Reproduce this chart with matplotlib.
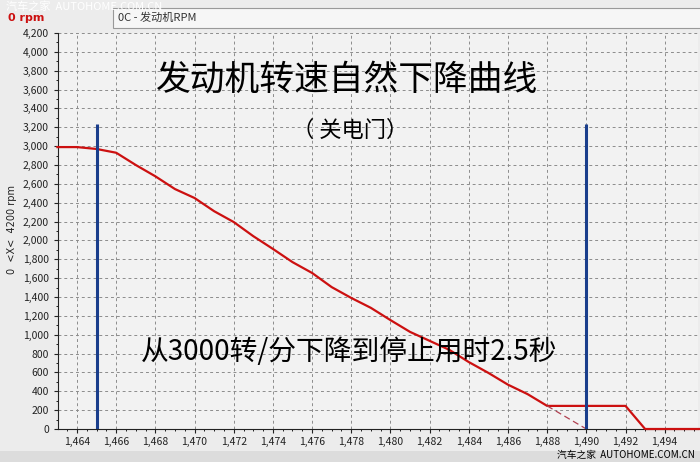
import matplotlib.pyplot as plt
from matplotlib.ticker import MultipleLocator, FuncFormatter
from matplotlib.patches import Rectangle

plt.rcParams['font.family'] = ['Noto Sans CJK SC', 'DejaVu Sans']

# engine rpm samples
t = [1463, 1464, 1465, 1466, 1467, 1468, 1469, 1470, 1471, 1472, 1473, 1474,
     1475, 1476, 1477, 1478, 1479, 1480, 1481, 1482, 1483, 1484, 1485, 1486,
     1487, 1488, 1492, 1493, 1496]
rpm = [2990, 2990, 2970, 2930, 2800, 2680, 2545, 2450, 2310, 2195, 2045, 1910,
       1770, 1655, 1505, 1390, 1285, 1155, 1030, 935, 840, 710, 595, 470,
       370, 245, 245, 0, 0]
# extrapolated part (dashed)
ext_t = [1488, 1490]
ext_rpm = [245, 0]
# markers
mark_t = [1465, 1490]
mark_top = 3230

title = '发动机转速自然下降曲线'
subtitle = '（ 关电门）'
note = '从3000转/分下降到停止用时2.5秒'

fig = plt.figure(figsize=(7, 4.62), dpi=100, facecolor='#ececec')
ax = fig.add_axes([58/700, 1-429/462, 640/700, 396/462])
ax.set_facecolor('#f2f2f2')

ax.plot(t, rpm, color='#cc1010', lw=1.6, clip_on=False, zorder=3)
ax.plot(ext_t, ext_rpm, color='#b04050', lw=0.9, ls=(0, (5, 3)), zorder=3)
ax.vlines(mark_t, 0, mark_top, color='#1a3e8c', lw=2.2, zorder=4)

ax.set_xlim(1463.03, 1495.7)
ax.set_ylim(0, 4200)
ax.xaxis.set_major_locator(MultipleLocator(2))
ax.xaxis.set_minor_locator(MultipleLocator(0.5))
ax.yaxis.set_major_locator(MultipleLocator(200))
ax.yaxis.set_minor_locator(MultipleLocator(100))
fmt = FuncFormatter(lambda v, p: f'{int(round(v)):,}')
ax.xaxis.set_major_formatter(fmt)
ax.yaxis.set_major_formatter(fmt)
ax.tick_params(labelsize=7.5, colors='#222222', length=3, width=0.8)
ax.tick_params(which='minor', length=1.5)
ax.tick_params(axis='x', pad=3)
ax.grid(True, which='major', ls=(0, (3, 3)), color='#8c8c8c', lw=0.7)
for s in ['top', 'right']:
    ax.spines[s].set_visible(False)
ax.spines['left'].set_color('#222222')
ax.spines['bottom'].set_color('#222222')
fig.text(12/700, 1-230/462, '0  <X<  4200 rpm', fontsize=7, rotation=90,
         ha='center', va='center', family='DejaVu Sans', color='#222222')

fig.text(347/700, 1-80/462, title, fontsize=25, ha='center', va='center', weight='medium')
fig.text(350/700, 1-130/462, subtitle, fontsize=16, ha='center', va='center', weight='medium')
fig.text(349/700, 1-352/462, note, fontsize=20, ha='center', va='center', weight='medium')

# header bar
fig.text(8/700, 1-18/462, '0 rpm', fontsize=8, color='#cc1010', weight='bold', va='center',
         family='DejaVu Sans')
fig.patches.append(Rectangle((113/700, 1-28/462), 590/700, 20/462, transform=fig.transFigure,
                             facecolor='#f6f6f6', edgecolor='#999999', lw=0.8))
fig.text(118/700, 1-18/462, '0C - 发动机RPM', fontsize=8, color='#333333', va='center')
fig.text(6/700, 1-7/462, '汽车之家  AUTOHOME.COM.CN', fontsize=8, color='white', va='center')

# bottom border and watermark
fig.patches.append(Rectangle((0, 0), 1, 11/462, transform=fig.transFigure,
                             facecolor='#dcdcdc', edgecolor='none'))
fig.text(695/700, 1-455/462, '汽车之家  AUTOHOME.COM.CN', fontsize=7, color='black',
         ha='right', va='center', family=['Noto Sans CJK SC', 'DejaVu Sans'])

fig.savefig('out.png', dpi=100, facecolor=fig.get_facecolor())
